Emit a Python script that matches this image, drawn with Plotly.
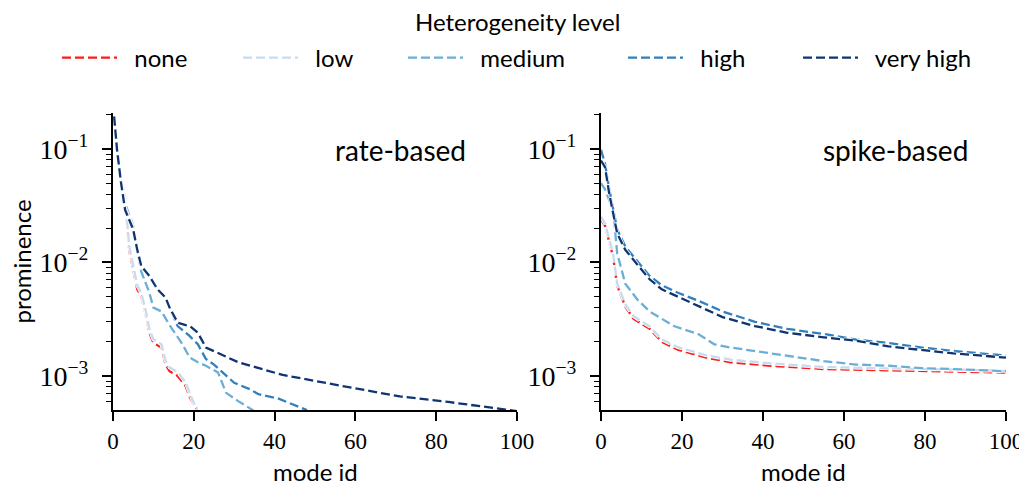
import plotly.graph_objects as go

# ---------------- data ----------------
level_names = ["none", "low", "medium", "high", "very high"]
level_colors = ["#ff1a1a", "#c6dbef", "#6baed6", "#3080bd", "#0f3472"]

# rate-based
rate_none_x = [0, 1, 2, 3, 4, 6, 7, 8, 9, 10, 12, 13, 14, 16, 18, 19, 21]
rate_none_y = [0.25, 0.098, 0.050, 0.035, 0.0129, 0.0058, 0.0050, 0.0036, 0.0024, 0.00195,
               0.00178, 0.00126, 0.0011, 0.0010, 0.00081, 0.00065, 0.00049]
rate_low_x = [0, 1, 2, 3, 4, 6, 7, 8, 9, 10, 12, 13, 14, 16, 18, 19, 21]
rate_low_y = [0.25, 0.100, 0.054, 0.038, 0.0140, 0.0063, 0.0054, 0.0039, 0.0026, 0.0021,
              0.00190, 0.00136, 0.00119, 0.00108, 0.00088, 0.00070, 0.00048]
rate_medium_x = [0, 2, 3, 5, 6, 7, 9, 10, 12, 14, 17, 19, 21, 23, 26, 28, 31, 35]
rate_medium_y = [0.25, 0.050, 0.033, 0.021, 0.0129, 0.0083, 0.0054, 0.0040, 0.0037, 0.0028,
                 0.00195, 0.00145, 0.00132, 0.00123, 0.00107, 0.00071, 0.00060, 0.00049]
rate_high_x = [0, 1, 2, 3, 5, 6, 7, 9, 11, 13, 14, 16, 18, 19, 21, 23, 25, 28, 30, 34, 36, 41, 48]
rate_high_y = [0.25, 0.098, 0.050, 0.030, 0.020, 0.0132, 0.0095, 0.0076, 0.0058, 0.0049, 0.0040,
               0.00275, 0.0024, 0.00224, 0.0019, 0.00141, 0.00126, 0.00102, 0.00087, 0.00076,
               0.00069, 0.00063, 0.00050]
rate_vhigh_x = [0, 1, 2, 3, 5, 6, 7, 9, 11, 13, 14, 16, 18, 19, 21, 23, 31, 42, 54, 63, 71, 83, 94, 100]
rate_vhigh_y = [0.25, 0.098, 0.050, 0.029, 0.0195, 0.0129, 0.0093, 0.0076, 0.0058, 0.0049, 0.0040,
                0.00295, 0.0028, 0.00275, 0.0024, 0.00178, 0.00132, 0.00102, 0.00085, 0.00074,
                0.00066, 0.00059, 0.000525, 0.00049]

# spike-based
spike_none_x = [0, 1, 3, 4, 6, 8, 12, 15, 19, 26, 32, 42, 55, 71, 87, 100]
spike_none_y = [0.024, 0.021, 0.0112, 0.0062, 0.0041, 0.0032, 0.0026, 0.0020, 0.0017, 0.00145,
                0.00132, 0.00123, 0.00115, 0.00112, 0.0011, 0.00107]
spike_low_x = [0, 1, 3, 4, 6, 8, 12, 15, 19, 26, 32, 42, 55, 71, 87, 100]
spike_low_y = [0.0252, 0.022, 0.0118, 0.0065, 0.0043, 0.00337, 0.00273, 0.0021, 0.00179, 0.00152,
               0.00139, 0.00129, 0.0012, 0.00117, 0.00114, 0.00111]
spike_medium_x = [0, 1, 3, 4, 6, 9, 12, 18, 24, 28, 32, 38, 45, 55, 63, 71, 79, 87, 100]
spike_medium_y = [0.050, 0.044, 0.029, 0.012, 0.0065, 0.0047, 0.0037, 0.00275, 0.00234, 0.0019,
                  0.00178, 0.00166, 0.00151, 0.00135, 0.00126, 0.00123, 0.00117, 0.00115, 0.0011]
spike_high_x = [0, 1, 2, 4, 6, 10, 12, 15, 19, 24, 30, 38, 46, 55, 63, 71, 79, 87, 100]
spike_high_y = [0.098, 0.074, 0.045, 0.0195, 0.0138, 0.0093, 0.0076, 0.0063, 0.0054, 0.0046,
                0.0037, 0.0030, 0.0026, 0.00234, 0.00209, 0.00195, 0.00178, 0.00166, 0.00151]
spike_vhigh_x = [0, 1, 2, 4, 6, 10, 12, 15, 19, 24, 30, 38, 46, 55, 63, 71, 79, 87, 100]
spike_vhigh_y = [0.079, 0.069, 0.041, 0.018, 0.0129, 0.0087, 0.0071, 0.0058, 0.0050, 0.0041,
                 0.0033, 0.00275, 0.0024, 0.00219, 0.00204, 0.00182, 0.0017, 0.00158, 0.00145]

x_tick_vals = [0, 20, 40, 60, 80, 100]
y_tick_vals = [1e-3, 1e-2, 1e-1]
y_tick_text = ["10<sup>−3</sup>", "10<sup>−2</sup>", "10<sup>−1</sup>"]

rate_series = [(rate_none_x, rate_none_y), (rate_low_x, rate_low_y), (rate_medium_x, rate_medium_y),
               (rate_high_x, rate_high_y), (rate_vhigh_x, rate_vhigh_y)]
spike_series = [(spike_none_x, spike_none_y), (spike_low_x, spike_low_y),
                (spike_medium_x, spike_medium_y), (spike_high_x, spike_high_y),
                (spike_vhigh_x, spike_vhigh_y)]

# minor log tick positions (2..9 within each decade)
minor_vals = [m * 10.0 ** e for e in range(-4, 0) for m in range(2, 10)]

# ---------------- figure ----------------
SANS = "Lato"
SERIF = "Liberation Serif"
OFF = 8                      # page body margin
W, H = 1027 - OFF, 486 - OFF

def px(xp):
    return (xp - OFF) / W

def py(yp):
    return 1 - (yp - OFF) / H

LW = 2.3
DASH = "9px,4px"
NB = "\u00a0\u00a0"

fig = go.Figure()
legend_starts = [62, 243, 408, 628, 803]

def add_series(xs, ys, i, xa, ya, legend_key=None):
    # thin white outline under each dashed line (as in the reference)
    fig.add_trace(go.Scatter(x=xs, y=ys, mode="lines", showlegend=False, hoverinfo="skip",
                             line=dict(color="white", width=LW + 1.6, dash=DASH),
                             xaxis=xa, yaxis=ya))
    kw = dict(showlegend=False) if legend_key is None else dict(legend=legend_key)
    fig.add_trace(go.Scatter(x=xs, y=ys, mode="lines",
                             name=(NB + level_names[i]) if legend_key else level_names[i],
                             line=dict(color=level_colors[i], width=LW, dash=DASH),
                             xaxis=xa, yaxis=ya, **kw))

for i in range(len(level_names)):
    lx, ly = rate_series[i]
    add_series(lx, ly, i, "x", "y", "legend" if i == 0 else f"legend{i+1}")
for i in range(len(level_names)):
    sx, sy = spike_series[i]
    add_series(sx, sy, i, "x2", "y2")

px_l = [113, 601]
px_r = [517, 1006]
top_px, bot_px = 113, 410
ydom = [py(bot_px), py(top_px)]

def xaxis_cfg(i):
    return dict(domain=[px(px_l[i]), px(px_r[i])], range=[0, 100], tickvals=x_tick_vals,
                showline=True, linecolor="black", linewidth=2, ticks="outside", ticklen=9,
                tickwidth=2, tickcolor="black", showgrid=False, zeroline=False,
                automargin=False,
                tickfont=dict(size=23, color="black", family=SERIF),
                anchor="y" if i == 0 else "y2")

def yaxis_cfg(i):
    return dict(domain=ydom, type="log", range=[-3.30, -0.684], tickvals=y_tick_vals,
                ticktext=y_tick_text, showline=True, linecolor="black", linewidth=2,
                ticks="outside", ticklen=9, tickwidth=2, tickcolor="black", showgrid=False,
                zeroline=False, automargin=False, ticklabelstandoff=8,
                tickfont=dict(size=28, color="black", family=SERIF),
                minor=dict(ticks="outside", ticklen=5, tickwidth=1.2, tickcolor="black",
                           tickvals=minor_vals, showgrid=False),
                anchor="x" if i == 0 else "x2")

title_font = dict(size=24, color="black", family=SANS)
layout = dict(
    width=W, height=H, margin=dict(l=0, r=0, t=0, b=0),
    paper_bgcolor="white", plot_bgcolor="white",
    font=dict(family=SANS, color="black"),
    xaxis=xaxis_cfg(0), xaxis2=xaxis_cfg(1),
    yaxis=yaxis_cfg(0), yaxis2=yaxis_cfg(1),
    annotations=[
        dict(text="rate-based", xref="x domain", yref="y domain", x=0.879, y=0.875,
             xanchor="right", yanchor="middle", showarrow=False,
             font=dict(size=28, color="black", family=SANS)),
        dict(text="spike-based", xref="x2 domain", yref="y2 domain", x=0.911, y=0.875,
             xanchor="right", yanchor="middle", showarrow=False,
             font=dict(size=28, color="black", family=SANS)),
        dict(text="Heterogeneity level", xref="paper", yref="paper", x=px(518), y=py(21),
             xanchor="center", yanchor="middle", showarrow=False, font=title_font),
        dict(text="mode id", xref="x domain", yref="paper", x=0.5, y=py(471),
             xanchor="center", yanchor="middle", showarrow=False, font=title_font),
        dict(text="mode id", xref="x2 domain", yref="paper", x=0.5, y=py(471),
             xanchor="center", yanchor="middle", showarrow=False, font=title_font),
        dict(text="prominence", xref="paper", yref="y domain", x=px(21), y=0.5,
             textangle=-90, xanchor="center", yanchor="middle", showarrow=False,
             font=title_font),
    ],
)
for i, sx in enumerate(legend_starts):
    key = "legend" if i == 0 else f"legend{i+1}"
    layout[key] = dict(x=px(sx - 5), y=py(58), xanchor="left", yanchor="middle",
                       orientation="h", bgcolor="rgba(0,0,0,0)", itemwidth=55,
                       font=dict(size=24, color="black", family=SANS))

fig.update_layout(**layout)
fig.write_html("out.html")
